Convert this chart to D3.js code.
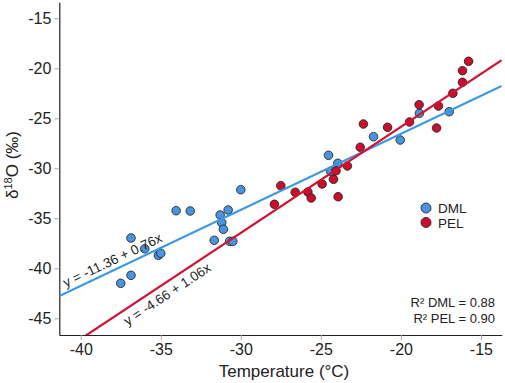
<!DOCTYPE html>
<html>
<head>
<meta charset="utf-8">
<script src="https://cdn.jsdelivr.net/npm/d3@7"></script>
<style>
  body { margin: 0; background: #fff; }
  svg { display: block; font-family: Arial, "Liberation Sans", sans-serif; }
</style>
</head>
<body>
<div id="chart"></div>
<script>
// DML 数据点 (温度, δ18O)
var dmlTemp = [-37.5, -36.86, -36.86, -36.0, -35.15, -35.0, -34.04, -33.16, -31.66, -31.29, -30.79, -31.19, -31.09, -30.7, -30.5, -30.0, -24.52, -23.94, -24.38, -21.71, -20.04, -18.84, -16.98];
var dmlD18O = [-41.5, -36.97, -40.7, -38.05, -38.7, -38.5, -34.24, -34.27, -37.2, -34.67, -34.17, -35.44, -36.1, -37.3, -37.3, -32.14, -28.7, -29.5, -30.3, -26.84, -27.17, -24.5, -24.34];
// PEL 数据点
var pelTemp = [-27.9, -27.5, -26.6, -25.81, -25.6, -24.92, -24.21, -24.05, -23.92, -23.34, -22.54, -22.34, -20.83, -19.46, -18.86, -17.65, -17.77, -16.75, -16.15, -16.15, -15.77];
var pelD18O = [-33.6, -31.74, -32.4, -32.37, -32.97, -31.57, -31.1, -30.25, -32.84, -29.77, -27.9, -25.57, -25.9, -25.37, -23.64, -23.77, -25.97, -22.5, -21.4, -20.24, -19.3];
// 回归系数 [截距, 斜率]
var dmlFit = [-11.36, 0.76];
var pelFit = [-4.66, 1.06];
var xTicks = [-40, -35, -30, -25, -20, -15];
var yTicks = [-45, -40, -35, -30, -25, -20, -15];
var r2Labels = ["R\u00b2 DML = 0.88", "R\u00b2 PEL = 0.90"];
var seriesNames = ["DML", "PEL"];

var width = 505;
var height = 383;
var blueFill = "#4a93df";
var blueLine = "#3a97e6";
var redFill = "#c8102e";
var redLine = "#d3102f";

var svg = d3.select("#chart").append("svg").attr("width", width).attr("height", height);

var x = d3.scaleLinear().domain([-41.34, -13.7]).range([59.3, 501.7]);
var y = d3.scaleLinear().domain([-46.67, -13.4]).range([335, 2.3]);

// 坐标轴
var xAxis = svg.append("g")
  .attr("transform", "translate(0," + y.range()[0] + ")")
  .call(d3.axisBottom(x).tickValues(xTicks).tickSize(5).tickSizeOuter(0).tickPadding(4).tickFormat(d3.format("d")));
var yAxis = svg.append("g")
  .attr("transform", "translate(" + x.range()[0] + ",0)")
  .call(d3.axisLeft(y).tickValues(yTicks).tickSize(5).tickSizeOuter(0).tickPadding(3).tickFormat(d3.format("d")));

[xAxis, yAxis].forEach(function (a) {
  a.select(".domain").attr("stroke", "#222").attr("stroke-width", 1.2);
  a.selectAll(".tick line").attr("stroke", "#aaa");
  a.selectAll(".tick text")
    .attr("fill", "#222")
    .style("font-size", "16px")
    .style("font-family", 'Arial, "Liberation Sans", sans-serif')
    .text(function (d) { return d3.format("d")(d).replace("\u2212", "-"); });
});

// 轴标题
svg.append("text")
  .attr("x", 284)
  .attr("y", 377)
  .attr("text-anchor", "middle")
  .attr("fill", "#222")
  .style("font-size", "17px")
  .text("Temperature (\u00b0C)");

var yTitle = svg.append("text")
  .attr("transform", "translate(18,165)rotate(-90)")
  .attr("text-anchor", "middle")
  .attr("fill", "#222")
  .style("font-size", "17px");
yTitle.append("tspan").text("\u03b4");
yTitle.append("tspan").attr("dy", -6).style("font-size", "11px").text("18");
yTitle.append("tspan").attr("dy", 6).text("O (\u2030)");

// 数据点
function points(xs, ys, fill) {
  svg.append("g")
    .selectAll("circle")
    .data(xs.map(function (d, i) { return { t: d, v: ys[i] }; }))
    .enter()
    .append("circle")
    .attr("cx", function (d) { return x(d.t); })
    .attr("cy", function (d) { return y(d.v); })
    .attr("r", 4.3)
    .attr("fill", fill)
    .attr("stroke", "#1a1a1a")
    .attr("stroke-width", 0.8);
}
points(dmlTemp, dmlD18O, blueFill);
points(pelTemp, pelD18O, redFill);

// 回归线 (裁剪到绘图区)
svg.append("defs").append("clipPath").attr("id", "plot")
  .append("rect")
  .attr("x", x.range()[0]).attr("y", y.range()[1])
  .attr("width", x.range()[1] - x.range()[0])
  .attr("height", y.range()[0] - y.range()[1]);

var line = d3.line().x(function (d) { return x(d[0]); }).y(function (d) { return y(d[1]); });
function fitLine(fit, color) {
  var xs = x.domain();
  svg.append("path")
    .datum(xs.map(function (t) { return [t, fit[0] + fit[1] * t]; }))
    .attr("clip-path", "url(#plot)")
    .attr("fill", "none")
    .attr("stroke", color)
    .attr("stroke-width", 2.2)
    .attr("d", line);
}
fitLine(dmlFit, blueLine);
fitLine(pelFit, redLine);

// 方程文字
function eqLabel(fit, t0, dy) {
  var ang = Math.atan2(y(fit[0] + fit[1] * (t0 + 1)) - y(fit[0] + fit[1] * t0), x(t0 + 1) - x(t0)) * 180 / Math.PI;
  var sign = fit[0] < 0 ? "-" : "+";
  svg.append("text")
    .attr("transform", "translate(" + x(t0) + "," + y(fit[0] + fit[1] * t0) + ")rotate(" + ang + ")")
    .attr("dy", dy)
    .attr("fill", "#222")
    .style("font-size", "13.5px")
    .text("y = " + sign + Math.abs(fit[0]).toFixed(2) + " + " + fit[1].toFixed(2) + "x");
}
eqLabel(dmlFit, -40.8, -5);
eqLabel(pelFit, -37.6, 15);

// 图例
var legend = svg.append("g").attr("transform", "translate(426,208)");
[blueFill, redFill].forEach(function (c, i) {
  var g = legend.append("g").attr("transform", "translate(0," + i * 14.5 + ")");
  g.append("line").attr("x1", -6).attr("y1", -3).attr("x2", 6).attr("y2", 3)
    .attr("stroke", i === 0 ? blueLine : redLine).attr("stroke-width", 0.6).attr("opacity", 0.6);
  g.append("circle").attr("r", 5).attr("fill", c).attr("stroke", "#1a1a1a").attr("stroke-width", 0.8);
  g.append("text").attr("x", 12).attr("y", 5).attr("fill", "#222").style("font-size", "13.5px").text(seriesNames[i]);
});

// R² 文字
svg.append("g")
  .selectAll("text")
  .data(r2Labels)
  .enter()
  .append("text")
  .attr("x", 495)
  .attr("y", function (d, i) { return 307 + i * 15.5; })
  .attr("text-anchor", "end")
  .attr("fill", "#222")
  .style("font-size", "13px")
  .text(function (d) { return d; });
</script>
</body>
</html>
